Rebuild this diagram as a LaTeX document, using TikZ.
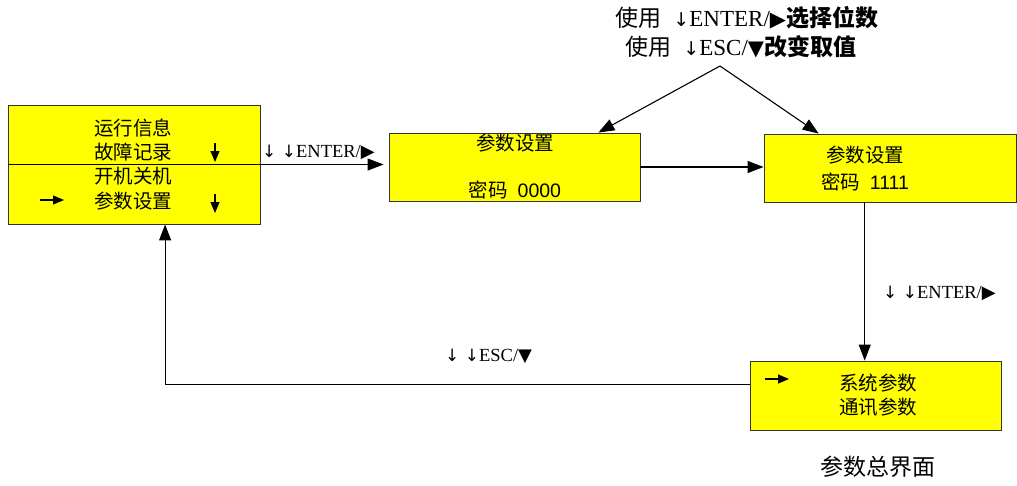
\documentclass[tikz,border=0pt]{standalone}
\usepackage{fontspec}
\setmainfont{Liberation Serif}
\newfontfamily\cjk{Noto Sans CJK SC}
\newfontfamily\sym{DejaVu Sans}
\newfontfamily\arial{Liberation Sans}
\usetikzlibrary{arrows.meta,calc}
\definecolor{boxyellow}{RGB}{255,255,0}
\tikzset{
  box/.style={draw=black!80, line width=0.9pt, fill=boxyellow, inner sep=0pt},
  conn/.style={line width=1.1pt, -{Triangle[length=16pt,width=12pt]}},
  small/.style={line width=1.1pt, -{Triangle[length=11pt,width=9pt]}},
  txt/.style={inner sep=0pt, font=\fontsize{19.5}{22}\selectfont},
  lbl/.style={inner sep=0pt, font=\fontsize{18.5}{20}\selectfont},
  big/.style={inner sep=0pt, font=\fontsize{23}{26}\selectfont},
}
\begin{document}
\begin{tikzpicture}[x=1pt,y=-1pt]
\useasboundingbox (0,0) rectangle (1017,485);
% boxes
\node[box, minimum width=252pt, minimum height=119pt] (b1) at (134,164.5) {};
\node[box, minimum width=251pt, minimum height=68pt] (b2) at (514.5,167) {};
\node[box, minimum width=252pt, minimum height=68pt] (b3) at (890,168) {};
\node[box, minimum width=251pt, minimum height=69pt] (b4) at (875.5,395.5) {};
% box 1 text
\node[txt] (t11) at (133,128) {\cjk 运行信息};
\node[txt] (t12) at (133,152) {\cjk 故障记录};
\node[txt] (t13) at (133,176) {\cjk 开机关机};
\node[txt] (t14) at (133,201) {\cjk 参数设置};
\draw[small] (215,143) -- (215,162);
\draw[small] (215,194) -- (215,213);
\draw[small] (40,200) -- (64,200);
% box 2 text
\node[txt] (t21) at (515,143) {\cjk 参数设置};
\node[txt] (t22) at (515,190) {{\cjk 密码}\ \ {\arial 0000}};
% box 3 text
\node[txt] (t31) at (865,155) {\cjk 参数设置};
\node[txt] (t32) at (865,182) {{\cjk 密码}\ \ {\arial 1111}};
% box 4 text
\node[txt] (t41) at (878,383) {\cjk 系统参数};
\node[txt] (t42) at (878,407) {\cjk 通讯参数};
\draw[small] (765,379) -- (789,379);
% caption
\node[big] (cap) at (878,467) {\cjk 参数总界面};
% top label
\node[big] (top1) at (747,18) {{\cjk 使用}\ \ {\sym\fontsize{19}{18}\selectfont ↓}ENTER/{\sym\fontsize{21}{18}\selectfont ▶}{\cjk\bfseries 选择位数}};
\node[big] (top2) at (741,47) {{\cjk 使用}\ \ {\sym\fontsize{19}{18}\selectfont ↓}ESC/{\sym\fontsize{21}{18}\selectfont ▼}{\cjk\bfseries 改变取值}};
\coordinate (apex) at (720,66);
\draw[conn] (apex) -- ($(b2.north west)!0.833!(b2.north east)$);
\draw[conn] (apex) -- ($(b3.north west)!0.218!(b3.north east)$);
% connectors
\draw[conn, shorten >=5pt] (b1.west) -- (b2.west |- b1.west);
\node[lbl, anchor=west] (l1) at (262,152) {{\sym\fontsize{17}{16}\selectfont ↓\ ↓}ENTER/{\sym\fontsize{18}{16}\selectfont ▶}};
\draw[conn] (b2.east) -- (b3.west |- b2.east);
\coordinate (b3s) at ($(b3.south west)!0.4!(b3.south east)$);
\draw[conn] (b3s) -- (b4.north -| b3s);
\node[lbl, anchor=west] (l2) at (883,293) {{\sym\fontsize{17}{16}\selectfont ↓\ ↓}ENTER/{\sym\fontsize{18}{16}\selectfont ▶}};
\coordinate (b4w) at ($(b4.north west)!0.348!(b4.south west)$);
\coordinate (b1s) at ($(b1.south west)!0.623!(b1.south east)$);
\draw[conn] (b4w) -| (b1s);
\node[lbl, anchor=west] (l3) at (445,356) {{\sym\fontsize{17}{16}\selectfont ↓\ ↓}ESC/{\sym\fontsize{18}{16}\selectfont ▼}};
\end{tikzpicture}
\end{document}
